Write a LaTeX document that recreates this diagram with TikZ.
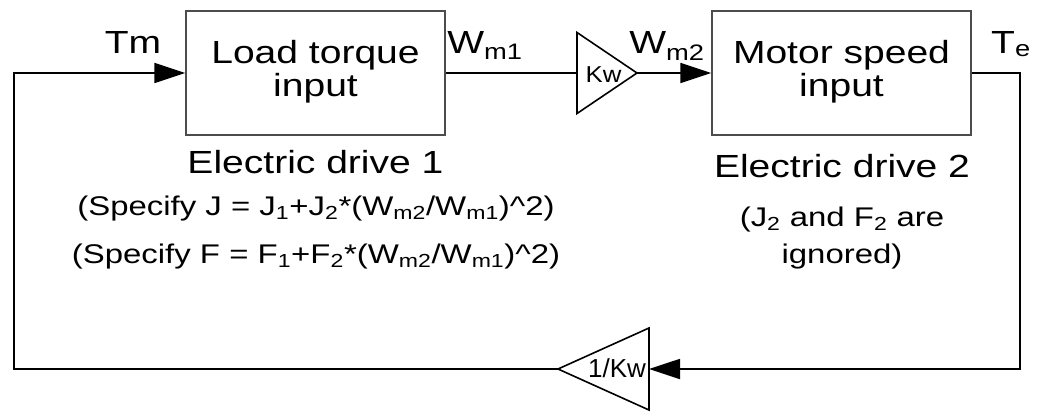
\documentclass[tikz,border=0pt]{standalone}
\usepackage{fontspec}
\setmainfont{Liberation Sans}
\usepackage{graphicx}
\usetikzlibrary{arrows.meta}
\newcommand{\sx}[1]{\scalebox{1.22}[1]{#1}}
\newcommand{\bigf}{\fontsize{32}{33}\selectfont}
\newcommand{\midf}{\fontsize{27}{39}\selectfont}
\begin{document}
\begin{tikzpicture}[x=1pt,y=-1pt,
  blk/.style={draw=black!70, line width=1.5pt, minimum width=259pt, minimum height=124pt, inner sep=0pt, font=\bigf},
  lbl/.style={inner sep=0pt, anchor=base},
  wire/.style={line width=1.8pt},
  arr/.style={wire, -{Triangle[length=31pt,width=20pt]}},
  gain/.style={line width=1.6pt, line join=miter},
]
\useasboundingbox (0,0) rectangle (1040,412);
% blocks
\node[blk] (box1) at (315.5,73) {\sx{\begin{tabular}{@{}c@{}}Load torque\\input\end{tabular}}};
\node[blk] (box2) at (841.5,73) {\sx{\begin{tabular}{@{}c@{}}Motor speed\\input\end{tabular}}};
% gains
\draw[gain] (577,32.5) -- (637,73) -- (577,113.5) -- cycle;
\coordinate (k1in) at (577,73);
\coordinate (k1out) at (637,73);
\node[lbl, font=\fontsize{23}{23}\selectfont] (k1lbl) at (603.5,82) {\scalebox{1.12}[1]{Kw}};
\draw[gain] (649,328) -- (558,369) -- (649,410) -- cycle;
\coordinate (k2in) at (649,369);
\coordinate (k2out) at (558,369);
\node[lbl, font=\fontsize{26}{26}\selectfont] (k2lbl) at (617,377) {1/Kw};
% corners
\coordinate (cR) at (1020,369);
\coordinate (cL) at (14,369);
% connectors
\draw[wire] (box1.east) -- (k1in);
\draw[arr] (k1out) -- (box2.west);
\draw[arr] (box2.east) -| (cR) -- (k2in);
\draw[arr] (k2out) -- (cL) |- (box1.west);
% labels
\node[lbl, font=\bigf] (tm) at (133,53) {\sx{Tm}};
\node[lbl, font=\bigf] (wm1) at (485,53) {\sx{W\textsubscript{m1}}};
\node[lbl, font=\bigf] (wm2) at (667,53) {\sx{W\textsubscript{m2}}};
\node[lbl, font=\bigf] (te) at (1011,53) {\sx{T\textsubscript{e}}};
\node[lbl, font=\bigf] (ed1) at (315.5,173) {\sx{Electric drive 1}};
\node[lbl, font=\bigf] (ed2) at (842,177) {\sx{Electric drive 2}};
\node[lbl, font=\midf] (spJ) at (316,215) {\sx{(Specify J = J\textsubscript{1}+J\textsubscript{2}*(W\textsubscript{m2}/W\textsubscript{m1})\textasciicircum 2)}};
\node[lbl, font=\midf] (spF) at (316,263) {\sx{(Specify F = F\textsubscript{1}+F\textsubscript{2}*(W\textsubscript{m2}/W\textsubscript{m1})\textasciicircum 2)}};
\node[lbl, font=\midf] (j2) at (842,226) {\sx{(J\textsubscript{2} and F\textsubscript{2} are}};
\node[lbl, font=\midf] (ign) at (842,263) {\sx{ignored)}};
\end{tikzpicture}
\end{document}
